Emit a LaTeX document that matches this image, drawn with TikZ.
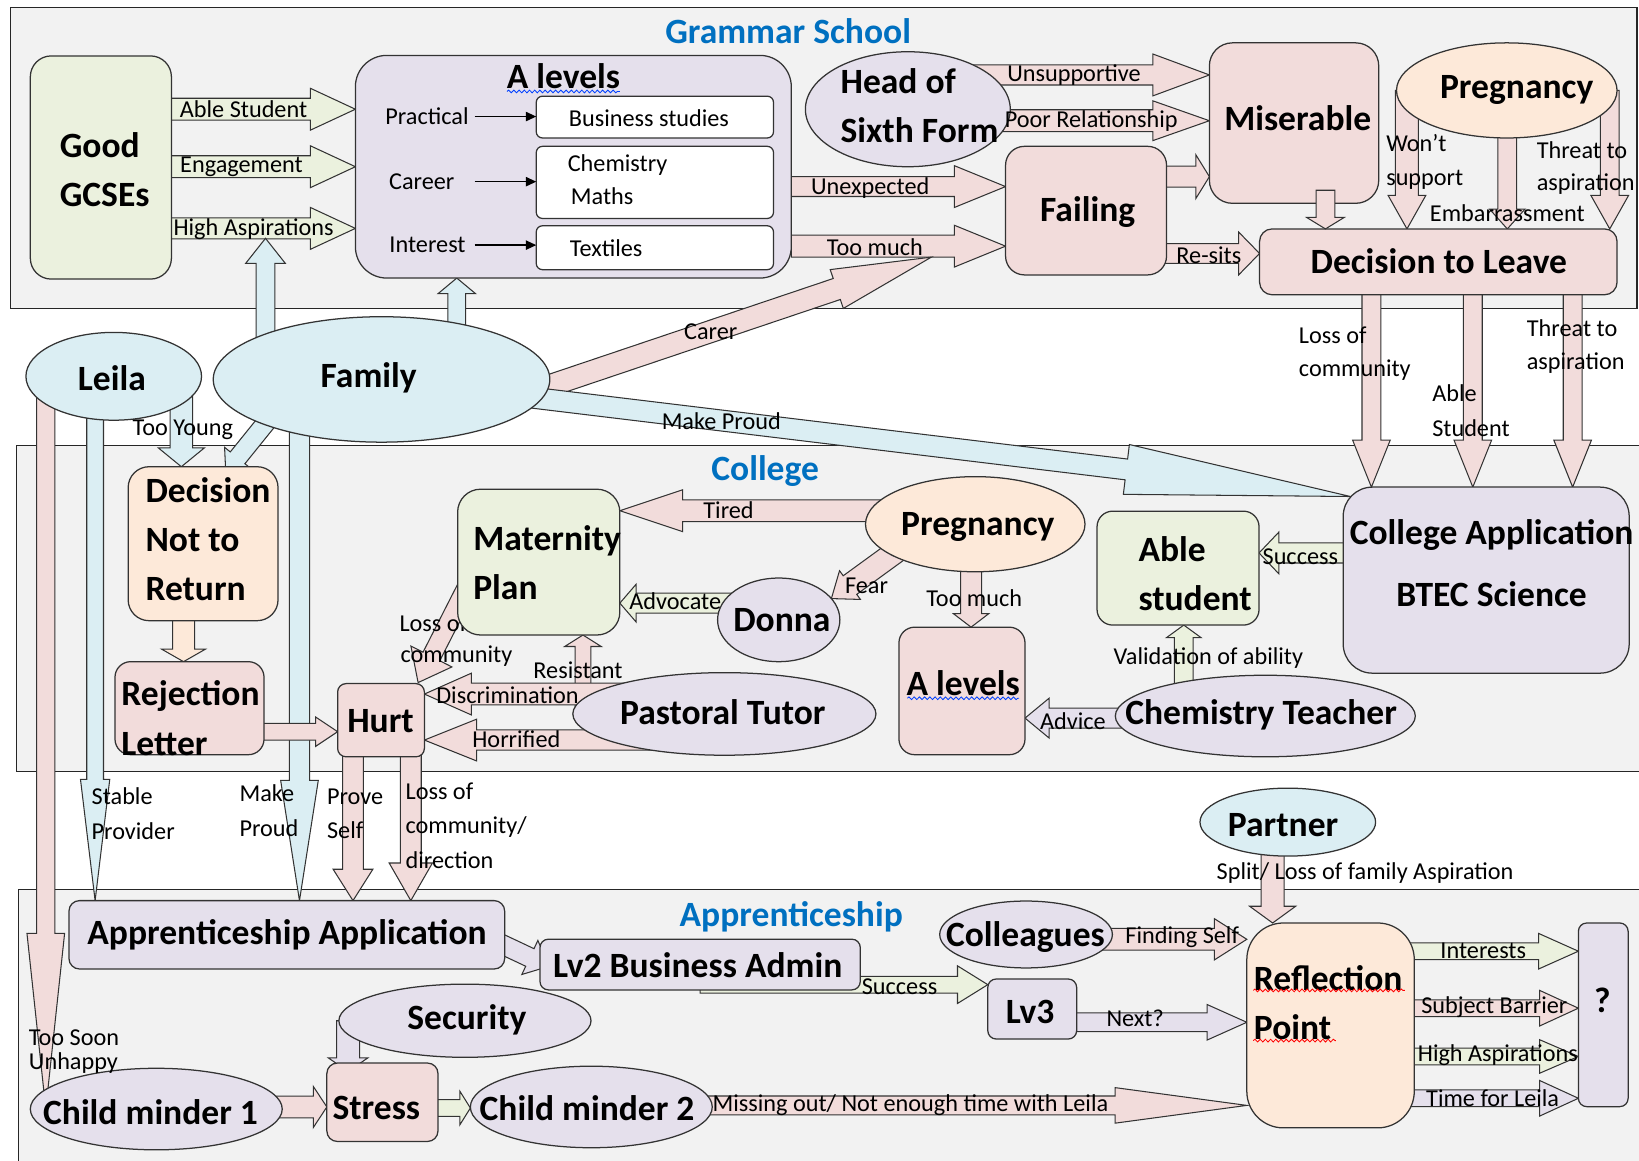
\documentclass[tikz,border=0pt]{standalone}
\usepackage{fontspec}
\setmainfont{Carlito}
\usetikzlibrary{calc,shapes.geometric,decorations.pathmorphing,arrows.meta}
\definecolor{cgreen}{HTML}{EBF1DE}
\definecolor{clav}{HTML}{E5E0EC}
\definecolor{cpink}{HTML}{F2DCDB}
\definecolor{cpeach}{HTML}{FDE9D9}
\definecolor{cblue}{HTML}{DBEEF3}
\definecolor{cframe}{HTML}{F2F2F2}
\definecolor{ctitle}{HTML}{0070C0}
\newcommand\bigf{\fontsize{34}{47}\selectfont\bfseries}
\newcommand\labf{\fontsize{23.2}{30}\selectfont}
\newcommand\ttlf{\fontsize{34}{40}\selectfont\bfseries}
\pgfdeclarelayer{back}\pgfdeclarelayer{arr}\pgfdeclarelayer{over}\pgfdeclarelayer{front}
\pgfsetlayers{back,arr,main,over,front}
% block arrow: #1 style, #2 start, #3 tip, #4 shaft half width, #5 head half width, #6 head length
\newcommand\barr[6]{%
  \coordinate (bA) at #2; \coordinate (bB) at #3;
  \coordinate (bH) at ($(bB)!#6pt!(bA)$);
  \filldraw[ar,#1] ($(bA)!#4pt!90:(bB)$) -- ($(bH)!#4pt!90:(bB)$) -- ($(bH)!#5pt!90:(bB)$) -- (bB) -- ($(bH)!#5pt!-90:(bB)$) -- ($(bH)!#4pt!-90:(bB)$) -- ($(bA)!#4pt!-90:(bB)$) -- cycle;}
\newcommand\rb[7]{\node[bx, fill=#6, rounded corners=#7pt, minimum width={(#4-#2)*1pt}, minimum height={(#5-#3)*1pt}] (#1) at ({(#2+#4)/2},{(#3+#5)/2}) {};}
\newcommand\el[6]{\node[bx, ellipse, fill=#6, minimum width={2*#4*1pt}, minimum height={2*#5*1pt}] (#1) at (#2,#3) {};}
\begin{document}
\begin{tikzpicture}[x=1pt,y=-1pt,
  bx/.style={draw=black!80, line width=1.2pt, inner sep=0pt, outer sep=0pt},
  bt/.style={font=\bigf, inner sep=0pt, align=left},
  lab/.style={font=\labf, inner sep=0pt},
  ttl/.style={font=\ttlf, text=ctitle, inner sep=0pt},
  ar/.style={draw=black!80, line width=1pt, line join=miter},
  wavy/.style={line width=0.8pt, decorate, decoration={snake, amplitude=1.3pt, segment length=5pt}}]
\useasboundingbox (0,0) rectangle (1568,1110);
\clip (0,0) rectangle (1568,1110);
\begin{pgfonlayer}{back}
\fill[white] (0,0) rectangle (1568,1110);
\filldraw[fill=cframe, draw=black!85, line width=1.3pt] (10,7) rectangle (1566,295);
\filldraw[fill=cframe, draw=black!85, line width=1.3pt] (16,426) rectangle (1575,738);
\filldraw[fill=cframe, draw=black!85, line width=1.3pt] (17.5,851) rectangle (1575,1120);
\node[ttl] (ttl1) at (754,30) {Grammar School};
\node[ttl] (ttl2) at (732,451) {College};
\node[ttl] (ttl3) at (757,877) {Apprenticeship};
\end{pgfonlayer}
% ---------- shapes ----------
\rb{gcse}{29}{53.5}{164}{267}{cgreen}{20}
\rb{alev}{340}{53}{757}{266}{clav}{30}
\rb{wb1}{513}{92}{740}{132}{white}{6}
\rb{wb2}{513}{140}{740}{209}{white}{6}
\rb{wb3}{513}{216}{740}{258}{white}{6}
\el{hos}{868.5}{104.5}{98}{55}{clav}
\rb{mis}{1157}{41}{1319}{194.5}{cpink}{22}
\el{preg1}{1441.5}{86.5}{105.5}{45.5}{cpeach}
\rb{fail}{962}{140}{1116}{263}{cpink}{18}
\rb{dtl}{1205}{219}{1547}{282}{cpink}{12}
\el{leila}{108.8}{360}{84}{42}{cblue}
\el{fam}{365}{363}{161}{60}{cblue}
\rb{dnr}{122.6}{446.5}{266}{593.8}{cpeach}{20}
\rb{rej}{110}{633}{252.6}{722}{cpink}{15}
\rb{hurt}{323}{654}{406}{724}{cpink}{8}
\node[lab, anchor=west] (l37) at (382,596) {Loss of};
\rb{mat}{437.8}{468}{593}{607.5}{cgreen}{22}
\el{preg2}{933}{501.5}{105}{45.5}{cpeach}
\el{donna}{745}{593}{58.5}{40}{clav}
\rb{alev2}{860}{600}{980.6}{722}{cpink}{15}
\rb{able}{1049.5}{489}{1204.5}{598}{cgreen}{15}
\rb{capp}{1285}{466}{1558.6}{644}{clav}{28}
\el{chem}{1210.5}{685}{143.5}{39}{clav}
\el{pas}{693}{683}{145}{39.5}{clav}
\rb{app}{66}{861.6}{482.8}{927}{clav}{10}
\rb{lv2}{516.6}{898.5}{823}{947}{clav}{8}
\rb{lv3}{945}{936.6}{1030}{994}{clav}{8}
\el{col}{981.6}{894}{82.6}{32}{clav}
\el{part}{1232}{786.5}{84}{32.5}{cblue}
\rb{refl}{1192.8}{883}{1353}{1079}{cpeach}{35}
\rb{qb}{1510}{883}{1557.6}{1058.7}{clav}{8}
\el{sec}{444.8}{976.5}{120.6}{35}{clav}
\el{cm1}{149.5}{1061}{120.5}{39}{clav}
\rb{stress}{312.7}{1017}{419}{1092}{cpink}{10}
\el{cm2}{565.7}{1059}{115.7}{39}{clav}
\coordinate (carertip) at (891,246);
\coordinate (famup) at (254,228);
\coordinate (dnrtip) at (216,452);
\coordinate (capptip) at (1292,475);
\coordinate (lv2tip) at (525,924.5);
\coordinate (hurttip) at (400,653);
% ---------- block arrows ----------
\begin{pgfonlayer}{arr}
% grammar school
\barr{fill=cgreen}{(gcse.east|-0,104.5)}{(alev.west|-0,104.5)}{10.5}{20}{43}
\barr{fill=cgreen}{(gcse.east|-0,159.5)}{(alev.west|-0,159.5)}{10.5}{20}{43}
\barr{fill=cgreen}{(gcse.east|-0,218.5)}{(alev.west|-0,218.5)}{10}{20}{43}
\barr{fill=cpink}{(hos.center|-0,71.7)}{(mis.west|-0,71.7)}{9.6}{20}{54}
\barr{fill=cpink}{(hos.center|-0,115.5)}{(mis.west|-0,115.5)}{10.5}{19}{54}
\barr{fill=cpink}{(alev.east|-0,178.5)}{(fail.west|-0,178.5)}{9.5}{20}{49}
\barr{fill=cpink}{(alev.east|-0,235.5)}{(fail.west|-0,235.5)}{10.5}{20}{49}
\barr{fill=cpink}{(fail.center|-0,169)}{(mis.west|-0,169)}{10}{21}{13}
\barr{fill=cpink}{(fail.center|-0,242.5)}{(dtl.west|-0,242.5)}{9.5}{20.5}{20}
\barr{fill=cpink}{(preg1.center-|1346,0)}{(dtl.north-|1346,0)}{11}{18}{32}
\barr{fill=cpink}{(preg1.center-|1442,0)}{(dtl.north-|1442,0)}{9}{17}{19}
\barr{fill=cpink}{(preg1.center-|1540,0)}{(dtl.north-|1540,0)}{9}{18}{32}
\barr{fill=cpink}{(480,384.5)}{(carertip)}{10.6}{19.6}{95.5}
\barr{fill=cblue}{(fam.center-|254,0)}{(famup)}{9}{19}{24}
\barr{fill=cblue}{(fam.center-|437,0)}{(alev.south-|437,0)}{8.5}{18}{15}
% between / college
\barr{fill=cblue}{(fam.center)}{(capptip)}{10}{24}{216}
\barr{fill=cpink}{(dtl.center-|1312,0)}{(capp.north-|1312,0)}{9}{18}{45}
\barr{fill=cpink}{(dtl.center-|1409,0)}{(capp.north-|1409,0)}{9}{18}{45}
\barr{fill=cpink}{(dtl.center-|1504.5,0)}{(capp.north-|1504.5,0)}{9}{18}{45}
\barr{fill=cblue}{(leila.center-|173.5,0)}{(dnr.north-|173.5,0)}{10.7}{22}{18}
\barr{fill=cblue}{(262,395)}{(dnrtip)}{9}{16}{18}
\barr{fill=cblue}{(leila.center-|91,0)}{(app.north-|91,0)}{8}{14}{116}
\barr{fill=cpink}{(leila.center-|43.8,0)}{(cm1.west-|43.8,0)}{8.7}{18}{168}
\barr{fill=cblue}{(fam.center-|286.5,0)}{(app.north-|286.5,0)}{9.7}{18}{115}
\barr{fill=cpeach}{(dnr.center-|175.6,0)}{(rej.north-|175.6,0)}{10.5}{21}{12}
\barr{fill=cpink}{(rej.center|-0,700)}{(hurt.west|-0,700)}{8}{14}{21}
\barr{fill=cpink}{(preg2.center|-0,488.6)}{(mat.east|-0,488.6)}{10.4}{20}{60}
\barr{fill=cpink}{(865,522)}{(donna.22)}{11}{17}{22}
\barr{fill=cgreen}{(donna.center|-0,577)}{(mat.east|-0,577)}{9.5}{18}{15.5}
\barr{fill=cpink}{(preg2.center-|929,0)}{(alev2.north-|929,0)}{10}{17}{13}
\barr{fill=cgreen}{(capp.center|-0,529)}{(able.east|-0,529)}{9.6}{20}{19}
\barr{fill=cgreen}{(chem.center-|1132.5,0)}{(able.south-|1132.5,0)}{9}{16.5}{12}
\barr{fill=clav}{(chem.center|-0,687)}{(alev2.east|-0,687)}{9.5}{19}{23}
\barr{fill=cpink}{(pas.center-|557.7,0)}{(mat.south-|557.7,0)}{7.5}{17.5}{11}
\barr{fill=cpink}{(pas.center|-0,664)}{(hurt.east|-0,664)}{10.4}{20}{45}
\barr{fill=cpink}{(pas.center|-0,708)}{(hurt.east|-0,708)}{9.7}{20}{50}
\barr{fill=cpink}{(455,545)}{(hurttip)}{9}{22}{28}
% apprenticeship
\barr{fill=cpink}{(hurt.center-|337.7,0)}{(app.north-|337.7,0)}{10}{19}{30}
\barr{fill=cpink}{(hurt.center-|393,0)}{(app.north-|393,0)}{10}{20.7}{36}
\barr{fill=clav}{(470,898.6)}{(lv2tip)}{9.3}{18}{20}
\barr{fill=cgreen}{(lv2.center|-0,942)}{(lv3.west|-0,942)}{8}{18}{29}
\barr{fill=clav}{(lv3.center|-0,978)}{(refl.west|-0,978)}{9}{17}{38}
\barr{fill=cpink}{(col.center|-0,898.6)}{(refl.west|-0,898.6)}{10.4}{19.7}{31}
\barr{fill=cpink}{(part.center-|1217.5,0)}{(refl.north-|1217.5,0)}{11}{22}{16}
\barr{fill=cgreen}{(refl.center|-0,910)}{(qb.west|-0,910)}{8}{17}{38}
\barr{fill=cpink}{(refl.center|-0,964.5)}{(qb.west|-0,964.5)}{8}{17}{37}
\barr{fill=cgreen}{(refl.center|-0,1010.7)}{(qb.west|-0,1010.7)}{8}{16}{37}
\barr{fill=clav}{(refl.center|-0,1050.7)}{(qb.west|-0,1050.7)}{8}{17}{37}
\barr{fill=cpink}{(cm2.center|-0,1057.5)}{(refl.west|-0,1057.5)}{9}{17}{126}
\barr{fill=clav}{(sec.center-|333,0)}{(333,1025)}{11}{19}{13}
\barr{fill=cpink}{(cm1.center|-0,1059)}{(stress.west|-0,1059)}{10.4}{19.7}{13}
\barr{fill=cgreen}{(stress.center|-0,1060)}{(cm2.west|-0,1060)}{8}{16}{10}
\end{pgfonlayer}
\begin{pgfonlayer}{over}
\barr{fill=cpink}{(1268,182)}{(dtl.north-|1268,0)}{9}{18}{11}
\draw[line width=1.2pt, -{Triangle[length=10pt,width=9pt]}] (454,111.5) -- (wb1.west|-0,111.5);
\draw[line width=1.2pt, -{Triangle[length=10pt,width=9pt]}] (454,173.8) -- (wb2.west|-0,173.8);
\draw[line width=1.2pt, -{Triangle[length=10pt,width=9pt]}] (454,234.5) -- (wb3.west|-0,234.5);
\end{pgfonlayer}
% ---------- texts ----------
\begin{pgfonlayer}{front}
\node[bt, anchor=west] (t-gcse) at (57,162.5) {Good\\GCSEs};
\node[bt] (t-alev) at (539,73) {A levels};
\node[bt, anchor=west] (t-hos) at (804,101.5) {Head of\\Sixth Form};
\node[bt] (t-mis) at (1241.5,113) {Miserable};
\node[bt] (t-preg1) at (1451,86) {Pregnancy};
\node[bt] (t-fail) at (1040.5,202.5) {Failing};
\node[bt] (t-dtl) at (1376.5,250) {Decision to Leave};
\node[bt] (t-leila) at (107,362) {Leila};
\node[bt] (t-fam) at (352.7,361) {Family};
\node[bt, anchor=west] (t-dnr) at (139,516) {Decision\\Not to\\Return};
\node[bt, anchor=west] (t-rej) at (116,687) {Rejection\\Letter};
\node[bt] (t-hurt) at (364,690) {Hurt};
\node[bt, anchor=west] (t-mat) at (452.6,538) {Maternity\\Plan};
\node[bt] (t-preg2) at (935.5,504) {Pregnancy};
\node[bt] (t-donna) at (748,593) {Donna};
\node[bt] (t-alev2) at (921.5,654) {A levels};
\node[bt, anchor=west] (t-able) at (1089,548.5) {Able\\student};
\node[bt, align=center, font={\fontsize{34}{59}\selectfont\bfseries}] (t-capp) at (1427,538.5) {College Application\\BTEC Science};
\node[bt] (t-pas) at (691.5,681) {Pastoral Tutor};
\node[bt] (t-chem) at (1206.5,684) {Chemistry Teacher};
\node[bt] (t-app) at (274.6,894.5) {Apprenticeship Application};
\node[bt] (t-lv2) at (667.5,923) {Lv2 Business Admin};
\node[bt] (t-lv3) at (985.5,967.8) {Lv3};
\node[bt] (t-col) at (981,896) {Colleagues};
\node[bt] (t-part) at (1227.5,789) {Partner};
\node[bt, anchor=west] (t-refl) at (1199.4,959.3) {Reflection\\Point};
\node[bt] (t-q) at (1533,957) {?};
\node[bt] (t-sec) at (446.7,976) {Security};
\node[bt] (t-cm1) at (144,1063.5) {Child minder 1};
\node[bt] (t-stress) at (360,1060) {Stress};
\node[bt] (t-cm2) at (561.6,1060) {Child minder 2};
% wavy underlines
\draw[wavy, draw=blue!75!cyan] (485,87.5) -- (593,87.5);
\draw[wavy, draw=blue!75!cyan] (868,668) -- (975,668);
\draw[wavy, draw=red] (1199,947.5) -- (1344,947.5);
\draw[wavy, draw=red] (1199,995.5) -- (1278,995.5);
% labels
\node[lab] (l1) at (233,104) {Able Student};
\node[lab] (l2) at (231,159.5) {Engagement};
\node[lab] (l3) at (242.6,219) {High Aspirations};
\node[lab] (l4) at (408.5,111.6) {Practical};
\node[lab] (l5) at (403.5,173.8) {Career};
\node[lab] (l6) at (409,234.5) {Interest};
\node[lab, anchor=west] (l7) at (544,113) {Business studies};
\node[lab, anchor=west] (l8) at (543,158) {Chemistry};
\node[lab, anchor=west] (l9) at (546,188) {Maths};
\node[lab, anchor=west] (l10) at (545,237) {Textiles};
\node[lab] (l11) at (1027.5,72) {Unsupportive};
\node[lab] (l12) at (1044,115.5) {Poor Relationship};
\node[lab] (l13) at (832.5,180) {Unexpected};
\node[lab] (l14) at (837,236) {Too much};
\node[lab] (l15) at (1156.5,244) {Re-sits};
\node[lab, anchor=west] (l16) at (1326,137) {Won’t};
\node[lab, anchor=west] (l17) at (1326,172) {support};
\node[lab] (l18) at (1442,204) {Embarrassment};
\node[lab, anchor=west] (l19) at (1470,143.5) {Threat to};
\node[lab, anchor=west] (l20) at (1470,176) {aspiration};
\node[lab] (l21) at (680,317) {Carer};
\node[lab] (l22) at (690,403) {Make Proud};
\node[lab] (l23) at (175,411) {Too Young};
\node[lab, anchor=west] (l24) at (1242.5,320.6) {Loss of};
\node[lab, anchor=west] (l25) at (1242.5,354) {community};
\node[lab, anchor=west] (l26) at (1370,376) {Able};
\node[lab, anchor=west] (l27) at (1370,409.6) {Student};
\node[lab, anchor=west] (l28) at (1460.5,314) {Threat to};
\node[lab, anchor=west] (l29) at (1460.5,347) {aspiration};
\node[lab] (l30) at (697,488) {Tired};
\node[lab] (l31) at (829,560) {Fear};
\node[lab] (l32) at (646,575.6) {Advocate};
\node[lab] (l33) at (932,572) {Too much};
\node[lab] (l34) at (1244,533) {Success};
\node[lab] (l35) at (1156,630) {Validation of ability};
\node[lab] (l36) at (1026.5,690) {Advice};
\node[lab, anchor=west] (l38) at (383,628) {community};
\node[lab] (l39) at (553,641) {Resistant};
\node[lab] (l40) at (485.5,665) {Discrimination};
\node[lab] (l41) at (494,707) {Horrified};
\node[lab, anchor=west] (l42) at (87.5,762) {Stable};
\node[lab, anchor=west] (l43) at (87.5,794.7) {Provider};
\node[lab, anchor=west] (l44) at (229,759) {Make};
\node[lab, anchor=west] (l45) at (229,792) {Proud};
\node[lab, anchor=west] (l46) at (312.7,762) {Prove};
\node[lab, anchor=west] (l47) at (312.7,794) {Self};
\node[lab, anchor=west] (l48) at (387.8,757) {Loss of};
\node[lab, anchor=west] (l49) at (387.8,791) {community/};
\node[lab, anchor=west] (l50) at (387.8,822.7) {direction};
\node[lab, anchor=west] (l51) at (27.5,993) {Too Soon};
\node[lab, anchor=west] (l52) at (27.5,1017) {Unhappy};
\node[lab] (l53) at (1306,835) {Split/ Loss of family Aspiration};
\node[lab] (l54) at (1131,897) {Finding Self};
\node[lab] (l55) at (860.6,944) {Success};
\node[lab] (l56) at (1086,974) {Next?};
\node[lab] (l57) at (1419,909.5) {Interests};
\node[lab] (l58) at (1429.6,963.6) {Subject Barrier};
\node[lab] (l59) at (1433,1009) {High Aspirations};
\node[lab] (l60) at (1428,1050.7) {Time for Leila};
\node[lab] (l61) at (871,1057) {Missing out/ Not enough time with Leila};
\end{pgfonlayer}
\end{tikzpicture}
\end{document}
